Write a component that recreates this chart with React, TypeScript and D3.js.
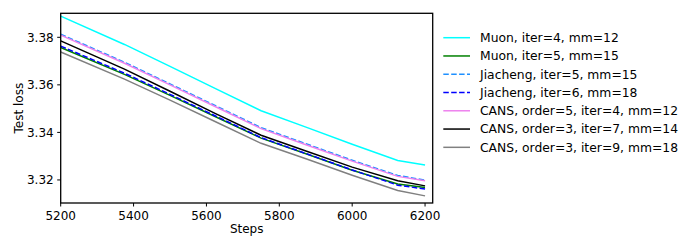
import React from "react";
import * as d3 from "d3";

const steps = [5200, 5375, 5500, 5625, 5750, 5875, 6000, 6125, 6200];

const muon4 = [3.3889, 3.377, 3.3678, 3.3584, 3.3491, 3.3421, 3.335, 3.3282, 3.3263];
const muon5 = [3.3757, 3.3644, 3.3556, 3.3466, 3.3376, 3.3309, 3.3241, 3.3183, 3.3168];
const jia5 = [3.3813, 3.3695, 3.3604, 3.3512, 3.342, 3.3351, 3.3283, 3.3219, 3.3199];
const jia6 = [3.3763, 3.3649, 3.356, 3.3469, 3.3378, 3.331, 3.3242, 3.3178, 3.3162];
const cans5 = [3.3809, 3.3691, 3.36, 3.3508, 3.3416, 3.3347, 3.3279, 3.3215, 3.3197];
const cans3a = [3.3785, 3.3666, 3.3573, 3.3479, 3.3388, 3.3321, 3.3254, 3.3197, 3.3175];
const cans3b = [3.3738, 3.3624, 3.3536, 3.3445, 3.3354, 3.3288, 3.322, 3.3156, 3.3133];

const xTicks = [5200, 5400, 5600, 5800, 6000, 6200];
const yTicks = [3.32, 3.34, 3.36, 3.38];

const series = [
  { name: "Muon, iter=4, mm=12", values: muon4, color: "#00ffff", dash: "" },
  { name: "Muon, iter=5, mm=15", values: muon5, color: "#008000", dash: "" },
  { name: "Jiacheng, iter=5, mm=15", values: jia5, color: "#1e90ff", dash: "5.5,2.4" },
  { name: "Jiacheng, iter=6, mm=18", values: jia6, color: "#0000ff", dash: "5.5,2.4" },
  { name: "CANS, order=5, iter=4, mm=12", values: cans5, color: "#ee82ee", dash: "" },
  { name: "CANS, order=3, iter=7, mm=14", values: cans3a, color: "#000000", dash: "" },
  { name: "CANS, order=3, iter=9, mm=18", values: cans3b, color: "#808080", dash: "" },
];

const W = 698;
const H = 249;
const left = 60.7;
const right = 432.7;
const top = 13.3;
const bottom = 203;
const font = "'DejaVu Sans', sans-serif";
const fs = 12;
const lfs = 12.35;

export default function App() {
  const x = d3.scaleLinear().domain([5200, 6221]).range([left, right]);
  const y = d3.scaleLinear().domain([3.3103, 3.3901]).range([bottom, top]);
  const line = d3
    .line<number>()
    .x((_, i) => x(steps[i]))
    .y((d) => y(d));

  return (
    <svg
      width={W}
      height={H}
      style={{ position: "absolute", left: 0, top: 0, background: "#fff" }}
      fontFamily={font}
    >
      <defs>
        <clipPath id="plotclip">
          <rect x={left} y={top} width={right - left} height={bottom - top} />
        </clipPath>
      </defs>
      <g clipPath="url(#plotclip)">
        {series.map((s) => (
          <path
            key={s.name}
            d={line(s.values) || ""}
            fill="none"
            stroke={s.color}
            strokeWidth={1.5}
            strokeDasharray={s.dash || undefined}
          />
        ))}
      </g>
      <rect
        x={left}
        y={top}
        width={right - left}
        height={bottom - top}
        fill="none"
        stroke="#000"
        strokeWidth={1.3}
      />
      {xTicks.map((t) => (
        <g key={t}>
          <line x1={x(t)} x2={x(t)} y1={bottom} y2={bottom + 3.5} stroke="#000" strokeWidth={1} />
          <text x={x(t)} y={bottom + 16.8} textAnchor="middle" fontSize={fs} fill="#000">
            {t}
          </text>
        </g>
      ))}
      {yTicks.map((t) => (
        <g key={t}>
          <line x1={left - 3.5} x2={left} y1={y(t)} y2={y(t)} stroke="#000" strokeWidth={1} />
          <text
            x={left - 7}
            y={y(t)}
            dy="0.36em"
            textAnchor="end"
            fontSize={fs}
            fill="#000"
          >
            {t.toFixed(2)}
          </text>
        </g>
      ))}
      <text x={(left + right) / 2} y={232.5} textAnchor="middle" fontSize={fs} fill="#000">
        Steps
      </text>
      <text
        transform={`translate(22.5,${(top + bottom) / 2}) rotate(-90)`}
        textAnchor="middle"
        fontSize={fs}
        fill="#000"
      >
        Test loss
      </text>
      {series.map((s, i) => {
        const ly = 37.7 + i * 18.27;
        return (
          <g key={s.name}>
            <line
              x1={443.3}
              x2={470}
              y1={ly}
              y2={ly}
              stroke={s.color}
              strokeWidth={1.5}
              strokeDasharray={s.dash || undefined}
            />
            <text x={480} y={ly} dy="0.36em" fontSize={lfs} fill="#000">
              {s.name}
            </text>
          </g>
        );
      })}
    </svg>
  );
}
